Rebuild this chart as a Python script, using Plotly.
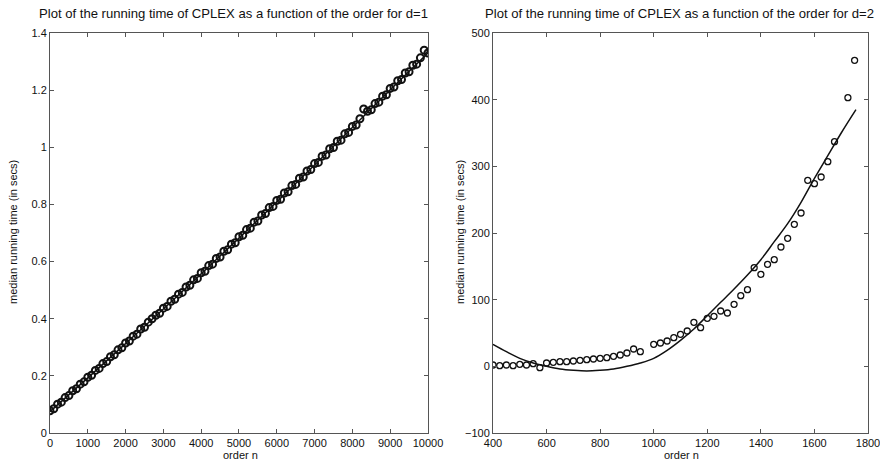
import plotly.graph_objects as go

# ---------------- data: left panel (d=1) ----------------
n1 = list(range(0, 10001, 100))
t1 = [0.078, 0.085, 0.101, 0.108, 0.124, 0.131, 0.148, 0.155, 0.171, 0.179,
      0.195, 0.202, 0.219, 0.226, 0.243, 0.250, 0.267, 0.274, 0.291, 0.298,
      0.315, 0.322, 0.339, 0.346, 0.364, 0.370, 0.388, 0.400, 0.412, 0.419,
      0.437, 0.443, 0.461, 0.468, 0.486, 0.492, 0.511, 0.517, 0.536, 0.541,
      0.561, 0.566, 0.586, 0.591, 0.611, 0.616, 0.636, 0.641, 0.661, 0.666,
      0.687, 0.692, 0.712, 0.717, 0.738, 0.742, 0.763, 0.768, 0.789, 0.793,
      0.814, 0.818, 0.840, 0.844, 0.866, 0.870, 0.892, 0.896, 0.917, 0.922,
      0.943, 0.947, 0.969, 0.973, 0.995, 0.999, 1.021, 1.025, 1.047, 1.052,
      1.073, 1.078, 1.100, 1.134, 1.126, 1.131, 1.153, 1.158, 1.179, 1.184,
      1.206, 1.211, 1.233, 1.237, 1.260, 1.264, 1.287, 1.291, 1.313, 1.340,
      1.330]
fit1_n = [0, 1000, 2000, 3000, 4000, 5000, 6000, 7000, 8000, 9000, 10000]
fit1_t = [0.075, 0.193, 0.313, 0.434, 0.557, 0.682, 0.809, 0.938, 1.069, 1.201, 1.330]
x1_ticks = [0, 1000, 2000, 3000, 4000, 5000, 6000, 7000, 8000, 9000, 10000]

# ---------------- data: right panel (d=2) ----------------
n2 = [400, 425, 450, 475, 500, 525, 550, 575, 600, 625, 650, 675, 700, 725,
      750, 775, 800, 825, 850, 875, 900, 925, 950,
      1000, 1025, 1050, 1075, 1100, 1125, 1150, 1175, 1200, 1225, 1250, 1275,
      1300, 1325, 1350, 1375, 1400, 1425, 1450, 1475, 1500, 1525, 1550, 1575,
      1600, 1625, 1650, 1675, 1725, 1750]
t2 = [2, 1, 2, 1, 3, 2, 4, -2, 5, 6, 7, 7, 8, 9,
      10, 11, 12, 13, 15, 17, 20, 26, 22,
      33, 35, 38, 43, 48, 53, 66, 58, 72, 75, 83, 80,
      93, 106, 115, 148, 138, 153, 160, 179, 192, 213, 230, 279,
      274, 284, 307, 337, 403, 459]
fit2_n = [400, 450, 500, 550, 600, 650, 700, 750, 800, 850, 900, 950, 1000,
          1050, 1100, 1150, 1200, 1250, 1300, 1350, 1400, 1450, 1500, 1550,
          1600, 1650, 1700, 1755]
fit2_t = [33, 22, 12, 5, 0, -4, -6, -7, -6, -4, 0, 5, 12,
          24, 39, 56, 76, 96, 116, 137, 160, 187, 214, 246,
          282, 316, 350, 385]

title1 = "Plot of the running time of CPLEX as a function of the order for d=1"
title2 = "Plot of the running time of CPLEX as a function of the order for d=2"
xlab = "order n"
ylab = "median running time (in secs)"

FONT = "Liberation Sans, Arial, Helvetica, sans-serif"
INK = "#111111"

fig = go.Figure()
marker1 = dict(symbol="circle-open", size=7, color=INK, line=dict(width=2.0, color=INK))
marker2 = dict(symbol="circle-open", size=6, color=INK, line=dict(width=1.3, color=INK))

fig.add_trace(go.Scatter(x=n1, y=t1, mode="markers", marker=marker1,
                         xaxis="x", yaxis="y", showlegend=False))
fig.add_trace(go.Scatter(x=fit1_n, y=fit1_t, mode="lines", line=dict(color=INK, width=1.5, shape="spline"),
                         xaxis="x", yaxis="y", showlegend=False))
fig.add_trace(go.Scatter(x=n2, y=t2, mode="markers", marker=marker2,
                         xaxis="x2", yaxis="y2", showlegend=False))
fig.add_trace(go.Scatter(x=fit2_n, y=fit2_t, mode="lines", line=dict(color=INK, width=1.5, shape="spline"),
                         xaxis="x2", yaxis="y2", showlegend=False))

axis_common = dict(showgrid=False, zeroline=False, showline=True, linecolor="#555555", linewidth=1,
                   mirror="ticks", ticks="inside", ticklen=4, tickcolor="#555555", automargin=False,
                   ticklabeloverflow="allow",
                   tickfont=dict(family=FONT, size=11, color=INK))

L, R, T, B = 50, 12, 33, 33
W, H = 880, 466
pw = W - L - R
d1 = [0, (428 - L) / pw]
d2 = [(493 - L) / pw, 1]

fig.update_layout(
    width=W, height=H, margin=dict(l=L, r=R, t=T, b=B, autoexpand=False),
    paper_bgcolor="white", plot_bgcolor="white",
    font=dict(family=FONT, color=INK),
    xaxis=dict(domain=d1, range=[0, 10001], tickmode="array", tickvals=x1_ticks,
               ticktext=[str(v) for v in x1_ticks], anchor="y", **axis_common),
    yaxis=dict(range=[0, 1.4], dtick=0.2, anchor="x", **axis_common),
    xaxis2=dict(domain=d2, range=[400, 1800], dtick=200, tickformat="d", anchor="y2", **axis_common),
    yaxis2=dict(range=[-100, 500], dtick=100, anchor="x2", **axis_common),
)

def px_x(p):
    return (p - L) / pw

def px_y(p):
    return 1 - (p - T) / (H - T - B)

ann = [
    dict(text=title1, x=px_x(233), y=px_y(14), xanchor="center", yanchor="middle", font=dict(size=13.1)),
    dict(text=title2, x=px_x(679), y=px_y(14), xanchor="center", yanchor="middle", font=dict(size=13.1)),
    dict(text=xlab, x=px_x(240), y=px_y(455), xanchor="center", yanchor="middle", font=dict(size=11)),
    dict(text=xlab, x=px_x(681), y=px_y(455), xanchor="center", yanchor="middle", font=dict(size=11)),
    dict(text=ylab, x=px_x(13), y=px_y(232), xanchor="center", yanchor="middle", textangle=-90, font=dict(size=11)),
    dict(text=ylab, x=px_x(460), y=px_y(232), xanchor="center", yanchor="middle", textangle=-90, font=dict(size=11)),
]
for a in ann:
    a.update(xref="paper", yref="paper", showarrow=False)
    a["font"].update(family=FONT, color=INK)
fig.update_layout(annotations=ann)

post = ("document.body.style.margin='0';"
        "document.body.style.overflow='hidden';")
fig.write_html("out.html", config={"displayModeBar": False, "responsive": False},
               post_script=post)
